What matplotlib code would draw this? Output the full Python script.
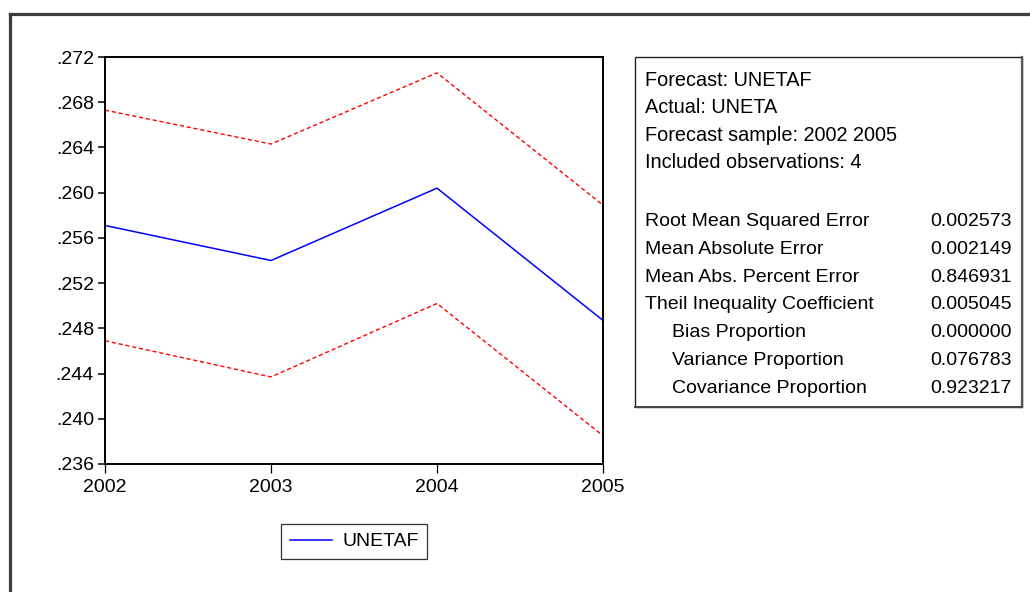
import matplotlib
matplotlib.use("Agg")
import matplotlib.pyplot as plt
from matplotlib.patches import Rectangle
from matplotlib.lines import Line2D

plt.rcParams['font.family'] = ['Liberation Sans', 'DejaVu Sans']

# forecast data
years = [2002, 2003, 2004, 2005]
unetaf = [0.2571, 0.2540, 0.2604, 0.2487]
upper = [0.2673, 0.2643, 0.2706, 0.2589]
lower = [0.2469, 0.2437, 0.2502, 0.2385]

y_ticks = [0.236, 0.240, 0.244, 0.248, 0.252, 0.256, 0.260, 0.264, 0.268, 0.272]
y_labels = ['.236', '.240', '.244', '.248', '.252', '.256', '.260', '.264', '.268', '.272']

# forecast evaluation table
head_lines = ['Forecast: UNETAF', 'Actual: UNETA', 'Forecast sample: 2002 2005',
              'Included observations: 4']
stat_names = ['Root Mean Squared Error', 'Mean Absolute Error', 'Mean Abs. Percent Error',
              'Theil Inequality Coefficient', 'Bias Proportion', 'Variance Proportion',
              'Covariance Proportion']
stat_indent = [0, 0, 0, 0, 1, 1, 1]
stat_values = ['0.002573', '0.002149', '0.846931', '0.005045', '0.000000', '0.076783', '0.923217']

W, H = 1030, 592
fig = plt.figure(figsize=(W / 100, H / 100), dpi=100)

def fx(x):
    return x / W

def fy(y):
    return 1 - y / H

# outer frame (only top and left edges visible)
fig.add_artist(Line2D([fx(10), 1.05], [fy(14), fy(14)], transform=fig.transFigure,
                      color='#3c3c3c', lw=2.3))
fig.add_artist(Line2D([fx(10), fx(10)], [fy(14), -0.05], transform=fig.transFigure,
                      color='#3c3c3c', lw=2.3))

# main plot
ax = fig.add_axes([fx(105), fy(464), fx(603) - fx(105), fy(57) - fy(464)])
ax.plot(years, unetaf, color='#0000ff', lw=1.1, label='UNETAF')
ax.plot(years, upper, color='#ff0000', lw=1.0, dashes=(3, 2))
ax.plot(years, lower, color='#ff0000', lw=1.0, dashes=(3, 2))
ax.set_xlim(2002, 2005)
ax.set_ylim(0.236, 0.272)
ax.set_xticks(years)
ax.set_xticklabels([str(y) for y in years])
ax.set_yticks(y_ticks)
ax.set_yticklabels(y_labels)
for s in ax.spines.values():
    s.set_linewidth(1.4)
    s.set_color('black')
ax.tick_params(axis='y', direction='out', length=5, width=1.1, pad=3, labelsize=14)
ax.tick_params(axis='x', direction='out', length=6.5, width=0.9, pad=4, labelsize=14)

leg = ax.legend(loc='center', bbox_to_anchor=(fx(354), fy(541.5)), bbox_transform=fig.transFigure,
                fancybox=False, frameon=True, fontsize=14, handlelength=2.2, handletextpad=0.5,
                borderpad=0.45, borderaxespad=0)
leg.get_frame().set_edgecolor('black')
leg.get_frame().set_linewidth(0.9)

# stats box
fig.add_artist(Rectangle((fx(635), fy(407)), fx(1022) - fx(635), fy(57) - fy(407),
                         transform=fig.transFigure, fill=False, edgecolor='#222222', lw=1.0))
fig.add_artist(Line2D([fx(1022), fx(1022)], [fy(57), fy(407)], transform=fig.transFigure,
                      color='#555555', lw=1.6))
fig.add_artist(Line2D([fx(635), fx(1022)], [fy(407), fy(407)], transform=fig.transFigure,
                      color='#444444', lw=1.4))

for i, t in enumerate(head_lines):
    fig.text(fx(645), fy(86 + i * 27.3), t, fontsize=14.3, va='baseline', ha='left')
for i, (n, v) in enumerate(zip(stat_names, stat_values)):
    yy = fy(226 + i * 27.8)
    fig.text(fx(645 + 27 * stat_indent[i]), yy, n, fontsize=14, va='baseline', ha='left')
    fig.text(fx(1012), yy, v, fontsize=14, va='baseline', ha='right')

fig.savefig('out.png', dpi=100)
